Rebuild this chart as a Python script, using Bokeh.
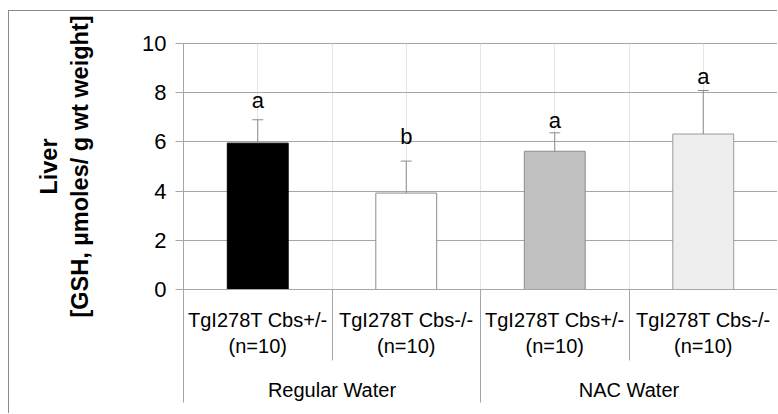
import numpy as np
from bokeh.plotting import figure
from bokeh.models import Range1d, FixedTicker, LinearAxis
from bokeh.core.properties import value
from bokeh.embed import file_html
from bokeh.resources import INLINE

# ---- data ----
genotypes = ["TgI278T Cbs+/-", "TgI278T Cbs-/-", "TgI278T Cbs+/-", "TgI278T Cbs-/-"]
n_labels = ["(n=10)", "(n=10)", "(n=10)", "(n=10)"]
groups = ["Regular Water", "NAC Water"]
gsh_mean = [5.95, 3.92, 5.62, 6.32]
gsh_sd = [0.95, 1.30, 0.75, 1.77]
sig_letters = ["a", "b", "a", "a"]
letter_height = [7.68, 6.22, 6.87, 8.66]
y_ticks = [0, 2, 4, 6, 8, 10]
bar_colors = ["#000000", "#ffffff", "#c0c0c0", "#eeeeee"]
bar_lines = ["#000000", "#8c8c8c", "#8c8c8c", "#9a9a9a"]
y_title = "Liver\n[GSH, µmoles/ g wt weight]"

# ---- layout (page pixels) ----
OX, OY = 9, 11                      # canvas origin after chart border
W, H = 778 - OX, 414 - OY
FL, FR, FT, FB = 183 - OX, 777 - OX, 43 - OY, 289 - OY
NCAT = len(genotypes)
YMAX = 10.0
FONT = "Liberation Sans"
GRID = "#a6a6a6"
BORDER = "#8a8a8a"

p = figure(width=W, height=H, x_range=Range1d(0, NCAT), y_range=Range1d(0, YMAX),
           output_backend="svg", toolbar_location=None, x_axis_location=None,
           min_border_left=FL, min_border_right=W - FR, min_border_top=FT,
           min_border_bottom=H - FB, margin=(10, 0, 0, 8),
           styles={"border-left": f"1px solid {BORDER}", "border-top": f"1px solid {BORDER}"})
p.outline_line_color = GRID
p.background_fill_color = "white"
p.border_fill_color = "white"
p.ygrid.ticker = FixedTicker(ticks=y_ticks)
p.ygrid.grid_line_color = GRID

ax = p.yaxis[0]
ax.ticker = FixedTicker(ticks=y_ticks)
ax.major_label_text_font = FONT
ax.major_label_text_font_size = "22px"
ax.major_label_text_color = "black"
ax.major_tick_out = 8
ax.major_tick_in = 0
ax.minor_tick_line_color = None
ax.axis_line_color = GRID
ax.major_tick_line_color = GRID
ax.major_label_standoff = 9
ax.axis_label = y_title
ax.axis_label_text_font = FONT
ax.axis_label_text_font_size = "23.5px"
ax.axis_label_text_font_style = "bold"
ax.axis_label_text_color = "black"
ax.axis_label_standoff = 46

centers = np.arange(NCAT) + 0.5
mean = np.array(gsh_mean)
upper = mean + np.array(gsh_sd)

# category axis, row 1: genotype + n, separators between every bar
cat_axis = LinearAxis(
    ticker=FixedTicker(ticks=list(centers), minor_ticks=list(range(NCAT + 1))),
    major_label_overrides={float(c): f"{g}\n{n}" for c, g, n in zip(centers, genotypes, n_labels)},
    major_tick_out=0, major_tick_in=0, minor_tick_in=0, minor_tick_out=71,
    major_tick_line_color=None, minor_tick_line_color=GRID, axis_line_color=GRID,
    major_label_standoff=-52, major_label_text_font=FONT,
    major_label_text_font_size="20px", major_label_text_color="black")
p.add_layout(cat_axis, "below")

# category axis, row 2: water groups, separators between groups
grp_pos = [1.0, 3.0]
grp_axis = LinearAxis(
    ticker=FixedTicker(ticks=grp_pos, minor_ticks=[0, 2, 4]),
    major_label_overrides={c: g for c, g in zip(grp_pos, groups)},
    major_tick_out=0, major_tick_in=0, minor_tick_in=0, minor_tick_out=43,
    major_tick_line_color=None, minor_tick_line_color=GRID, axis_line_color=None,
    major_label_standoff=-24, major_label_text_font=FONT,
    major_label_text_font_size="20px", major_label_text_color="black")
p.add_layout(grp_axis, "below")

p.vbar(x=centers, top=mean, bottom=0, width=0.41, fill_color=bar_colors,
       line_color=bar_lines, line_width=1)

ERR = "#8c8c8c"
cw = 0.037
p.segment(x0=centers, y0=mean, x1=centers, y1=upper, line_color=ERR, line_width=1)
p.segment(x0=centers - cw, y0=upper, x1=centers + cw, y1=upper, line_color=ERR, line_width=1)

p.text(x=centers, y=letter_height, text=sig_letters, text_align="center",
       text_baseline="alphabetic", text_font=value(FONT), text_font_size="22px",
       text_color="black")

open("out.html", "w").write(file_html(p, INLINE))
